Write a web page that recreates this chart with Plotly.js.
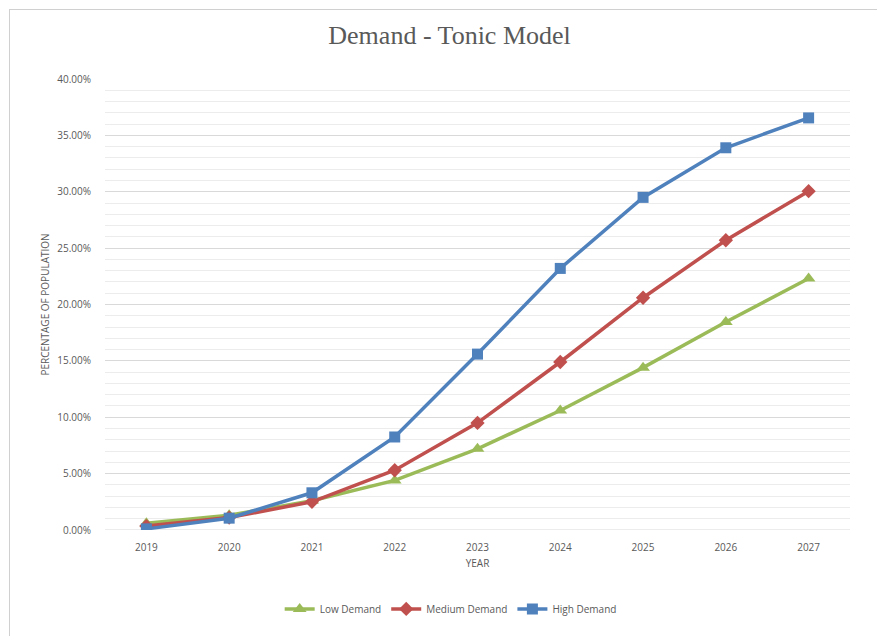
<!DOCTYPE html>
<html>
<head>
<meta charset="utf-8">
<script src="https://cdn.plot.ly/plotly-3.0.1.min.js"></script>
<style>
  html, body { margin: 0; padding: 0; background: #fff; }
  #wrap { position: relative; width: 877px; height: 636px; }
  #chart { width: 877px; height: 636px; }
  #frame { position: absolute; left: 9px; top: 9px; right: 0; bottom: 0;
           border-top: 1px solid #d0d0d0; border-left: 1px solid #d0d0d0; pointer-events: none; }
</style>
</head>
<body>
<div id="wrap">
  <div id="chart"></div>
  <div id="frame"></div>
</div>
<script>
const years = ['2019', '2020', '2021', '2022', '2023', '2024', '2025', '2026', '2027'];
const lowDemand    = [0.006, 0.013, 0.026, 0.044, 0.072, 0.106, 0.144, 0.1845, 0.223];
const mediumDemand = [0.0035, 0.011, 0.025, 0.053, 0.095, 0.149, 0.206, 0.257, 0.3005];
const highDemand   = [0.001, 0.0105, 0.033, 0.0825, 0.156, 0.232, 0.295, 0.339, 0.3655];

const seriesNames = ['Low Demand', 'Medium Demand', 'High Demand'];
const colors = ['#9BBB59', '#C0504D', '#4F81BD'];
const symbols = ['triangle-up', 'diamond', 'square'];
const sizes = [12, 11, 11];
const values = [lowDemand, mediumDemand, highDemand];

const traces = values.map((v, i) => ({
  type: 'scatter',
  mode: 'lines+markers',
  name: seriesNames[i],
  x: years,
  y: v,
  line: { color: colors[i], width: 3.5 },
  marker: { color: colors[i], symbol: symbols[i], size: sizes[i] },
  hoverinfo: 'x+y'
}));

const tickFont = { family: 'Open Sans, Liberation Sans, sans-serif', size: 10, color: '#595959' };

const layout = {
  width: 877,
  height: 636,
  margin: { l: 105, r: 27, t: 79, b: 106 },
  paper_bgcolor: '#ffffff',
  plot_bgcolor: '#ffffff',
  title: {
    text: 'Demand - Tonic Model',
    font: { family: 'Liberation Serif, DejaVu Serif, serif', size: 26, color: '#595959' },
    x: 0.5126, xref: 'container', xanchor: 'center',
    y: 0.945, yref: 'container', yanchor: 'middle'
  },
  xaxis: {
    type: 'category',
    range: [-0.5, 8.5],
    tickfont: tickFont,
    showgrid: false,
    showline: false,
    zeroline: false,
    ticks: 'outside', ticklen: 8, tickcolor: 'rgba(0,0,0,0)',
    title: { text: 'YEAR', font: tickFont, standoff: 6 }
  },
  yaxis: {
    range: [0, 0.4],
    dtick: 0.05,
    tickformat: '.2%',
    tickfont: tickFont,
    showgrid: true,
    gridcolor: '#d9d9d9',
    gridwidth: 1,
    zeroline: false,
    showline: false,
    ticks: 'outside', ticklen: 11, tickcolor: 'rgba(0,0,0,0)',
    minor: { dtick: 0.01, showgrid: true, gridcolor: '#ececec', gridwidth: 1, ticks: '' },
    title: { text: 'PERCENTAGE OF POPULATION', font: tickFont, standoff: 5 }
  },
  shapes: [{
    type: 'line', xref: 'paper', yref: 'y', x0: 0, x1: 1, y0: 0, y1: 0,
    line: { color: '#d9d9d9', width: 1 }, layer: 'below'
  }],
  legend: {
    orientation: 'h',
    x: 0.464, xanchor: 'center',
    y: -0.175, yanchor: 'middle',
    font: tickFont,
    itemwidth: 30
  },
  showlegend: true
};

Plotly.newPlot('chart', traces, layout, { displayModeBar: false, staticPlot: true });
</script>
</body>
</html>
